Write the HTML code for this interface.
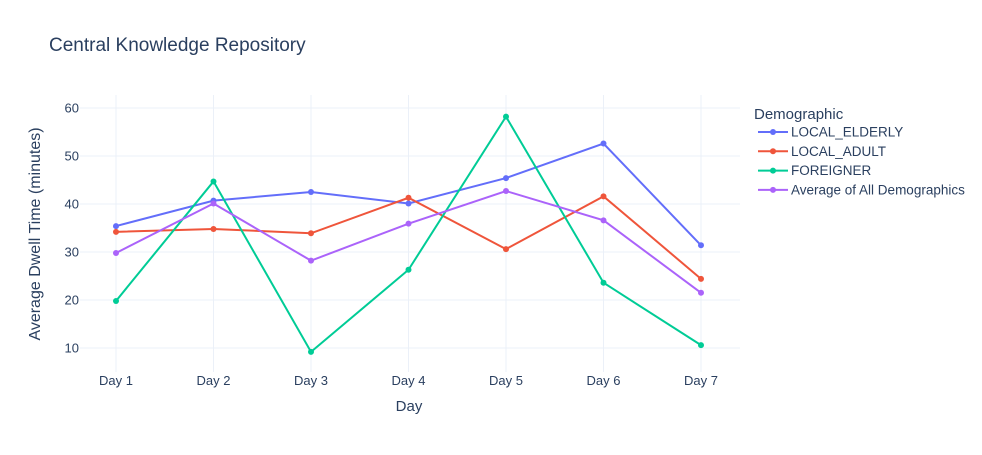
<!DOCTYPE html>
<html><head><meta charset="utf-8"><style>
body{margin:0;background:#fff;}
svg text{font-family:"Liberation Sans",Arial,sans-serif;fill:#2a3f5f;}
</style></head><body>
<svg width="982" height="450" xmlns="http://www.w3.org/2000/svg">
<rect width="982" height="450" fill="#fff"/>
<text x="49" y="51" font-size="19">Central Knowledge Repository</text>
<g id="grid"></g>
<g id="yticks"></g>
<g id="xticks"></g>
<g id="series"></g>
<text x="409" y="411" font-size="15" text-anchor="middle">Day</text>
<text transform="translate(40,234) rotate(-90)" font-size="16" text-anchor="middle">Average Dwell Time (minutes)</text>
<g id="legend">
<text x="754" y="119" font-size="15">Demographic</text>
</g>
</svg>
<script>
const categories=["Day 1","Day 2","Day 3","Day 4","Day 5","Day 6","Day 7"];
const seriesNames=["LOCAL_ELDERLY","LOCAL_ADULT","FOREIGNER","Average of All Demographics"];
const elderly=[35.4,40.7,42.5,40.1,45.4,52.6,31.4];
const adult=[34.2,34.8,33.9,41.3,30.6,41.6,24.4];
const foreigner=[19.8,44.7,9.2,26.3,58.2,23.6,10.6];
const average=[29.8,40.1,28.2,35.9,42.7,36.6,21.5];
const yTicks=[10,20,30,40,50,60];
const colors=["#636efa","#EF553B","#00cc96","#ab63fa"];
const NS="http://www.w3.org/2000/svg";
const plotL=80,plotR=740,plotT=95,plotB=372;
function xs(i){return 116+i*(701-116)/(categories.length-1);}
function ys(v){return 348-(v-10)*4.8;}
function mk(t,a,p){const e=document.createElementNS(NS,t);for(const k in a)e.setAttribute(k,a[k]);p.appendChild(e);return e;}
const grid=document.getElementById('grid'),yt=document.getElementById('yticks'),xt=document.getElementById('xticks'),sg=document.getElementById('series'),lg=document.getElementById('legend');
yTicks.forEach(v=>{
 const l=mk('line',{x1:plotL,x2:plotR,y1:ys(v),y2:ys(v),stroke:'#ebf0f8','stroke-width':1},grid);
 
 
 const t=mk('text',{x:plotL-1,y:ys(v)+4.5,'font-size':13,'text-anchor':'end'},yt);
 t.textContent=v;
 
 
});
categories.forEach((c,i)=>{
 const l=mk('line',{x1:xs(i),x2:xs(i),y1:plotT,y2:plotB,stroke:'#ebf0f8','stroke-width':1},grid);
 
 
 const t=mk('text',{x:xs(i),y:385,'font-size':13,'text-anchor':'middle'},xt);
 t.textContent=c;
 
 
});
[elderly,adult,foreigner,average].forEach((d,s)=>{
 const g=mk('g',{},sg);
 
 
 const pl=mk('polyline',{points:d.map((v,i)=>xs(i)+','+ys(v)).join(' '),fill:'none',stroke:colors[s],'stroke-width':2},g);
 
 
 d.forEach((v,i)=>{
  const c=mk('circle',{cx:xs(i),cy:ys(v),r:3,fill:colors[s]},g);
  
  
 });
 const y=136+s*19.3;
 const e=mk('g',{},lg);
 
 
 mk('line',{x1:758,x2:788,y1:y-4,y2:y-4,stroke:colors[s],'stroke-width':2},e);
 mk('circle',{cx:773,cy:y-4,r:3,fill:colors[s]},e);
 const t=mk('text',{x:791,y:y+0.5,'font-size':13.5},e);
 t.textContent=seriesNames[s];
});
</script>
</body></html>
